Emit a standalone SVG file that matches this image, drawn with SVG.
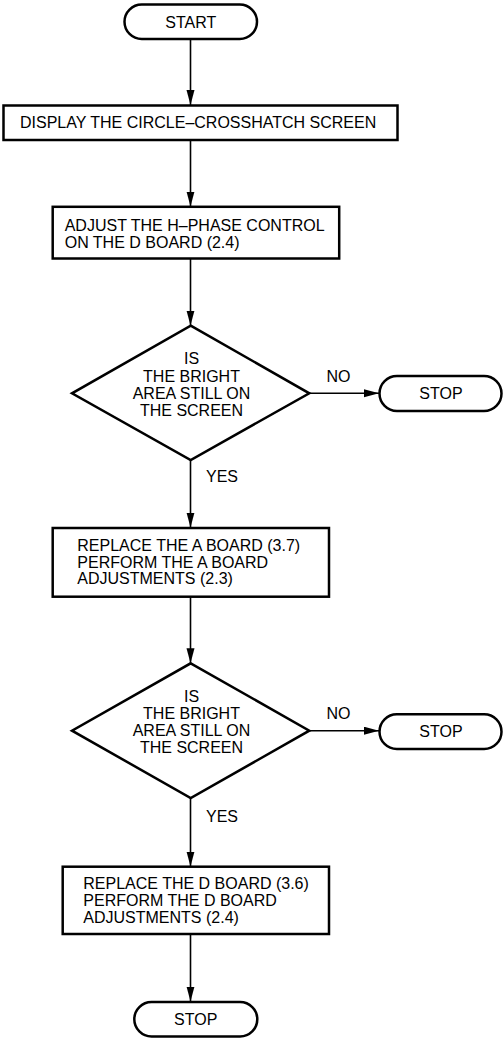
<svg xmlns="http://www.w3.org/2000/svg" width="503" height="1038" viewBox="0 0 503 1038">
<style>
.shape{fill:#fff;stroke:#000;stroke-width:2.5}
.t{font-family:"Liberation Sans",Arial,sans-serif;font-size:16px;fill:#000}
.m{text-anchor:middle}
.c{fill:none;stroke:#000;stroke-width:1.6}
</style>
<defs>
<marker id="ah" markerUnits="userSpaceOnUse" markerWidth="16" markerHeight="9" refX="15" refY="4" orient="auto">
<path d="M0,0 L15,4 L0,8 z" fill="#000"/>
</marker>
</defs>
<rect width="503" height="1038" fill="#fff"/>
<g id="connectors">
<line class="c" x1="190.5" y1="39" x2="190.5" y2="105" marker-end="url(#ah)"/>
<line class="c" x1="190.5" y1="140" x2="190.5" y2="206.5" marker-end="url(#ah)"/>
<line class="c" x1="190.5" y1="258.5" x2="190.5" y2="325.5" marker-end="url(#ah)"/>
<line class="c" x1="309.5" y1="393.3" x2="379" y2="393.3" marker-end="url(#ah)"/>
<line class="c" x1="190.5" y1="460" x2="190.5" y2="527.5" marker-end="url(#ah)"/>
<line class="c" x1="190.5" y1="596.5" x2="190.5" y2="663.3" marker-end="url(#ah)"/>
<line class="c" x1="309.5" y1="730.7" x2="379" y2="730.7" marker-end="url(#ah)"/>
<line class="c" x1="190.5" y1="798" x2="190.5" y2="866.5" marker-end="url(#ah)"/>
<line class="c" x1="190.5" y1="934" x2="190.5" y2="1001.5" marker-end="url(#ah)"/>
<text class="t" x="326.5" y="381.7">NO</text>
<text class="t" x="206" y="482.3">YES</text>
<text class="t" x="326.5" y="719">NO</text>
<text class="t" x="206" y="821.7">YES</text>
</g>
<g id="start">
<rect class="shape" x="124.5" y="4.5" width="132.5" height="34.5" rx="17.25"/>
<text class="t m" x="190.7" y="27.5">START</text>
</g>
<g id="display">
<rect class="shape" x="3.5" y="105.5" width="394" height="34.5"/>
<text class="t" x="20" y="128.3">DISPLAY THE CIRCLE–CROSSHATCH SCREEN</text>
</g>
<g id="adjust">
<rect class="shape" x="52.7" y="206.8" width="286.5" height="51.7"/>
<text class="t" x="64.7" y="230.7">ADJUST THE H–PHASE CONTROL</text>
<text class="t" x="64.7" y="247.5">ON THE D BOARD (2.4)</text>
</g>
<g id="decision1">
<polygon class="shape" points="190.7,325.7 309.3,393.3 190.7,460 72,393.3"/>
<text class="t m" x="191.5" y="364.3">IS</text>
<text class="t m" x="191.5" y="381.5">THE BRIGHT</text>
<text class="t m" x="191.5" y="398.5">AREA STILL ON</text>
<text class="t m" x="191.5" y="415.7">THE SCREEN</text>
</g>
<g id="stop1">
<rect class="shape" x="379.5" y="376" width="122" height="35" rx="17.5"/>
<text class="t m" x="441" y="399.2">STOP</text>
</g>
<g id="replaceA">
<rect class="shape" x="52.7" y="528" width="276.3" height="68.7"/>
<text class="t" x="77.3" y="550.7">REPLACE THE A BOARD (3.7)</text>
<text class="t" x="77.3" y="567.5">PERFORM THE A BOARD</text>
<text class="t" x="77.3" y="584.3">ADJUSTMENTS (2.3)</text>
</g>
<g id="decision2">
<polygon class="shape" points="190.7,663.3 309.3,730.7 190.7,798 72,730.7"/>
<text class="t m" x="191.5" y="701.7">IS</text>
<text class="t m" x="191.5" y="719">THE BRIGHT</text>
<text class="t m" x="191.5" y="736">AREA STILL ON</text>
<text class="t m" x="191.5" y="753">THE SCREEN</text>
</g>
<g id="stop2">
<rect class="shape" x="379.5" y="714.3" width="122" height="34.7" rx="17.35"/>
<text class="t m" x="441" y="737.3">STOP</text>
</g>
<g id="replaceD">
<rect class="shape" x="62.7" y="866.7" width="266.3" height="67.3"/>
<text class="t" x="83.3" y="889">REPLACE THE D BOARD (3.6)</text>
<text class="t" x="83.3" y="905.8">PERFORM THE D BOARD</text>
<text class="t" x="83.3" y="922.7">ADJUSTMENTS (2.4)</text>
</g>
<g id="stop3">
<rect class="shape" x="134.3" y="1002" width="123" height="34.5" rx="17.25"/>
<text class="t m" x="195.7" y="1025">STOP</text>
</g>
</svg>
